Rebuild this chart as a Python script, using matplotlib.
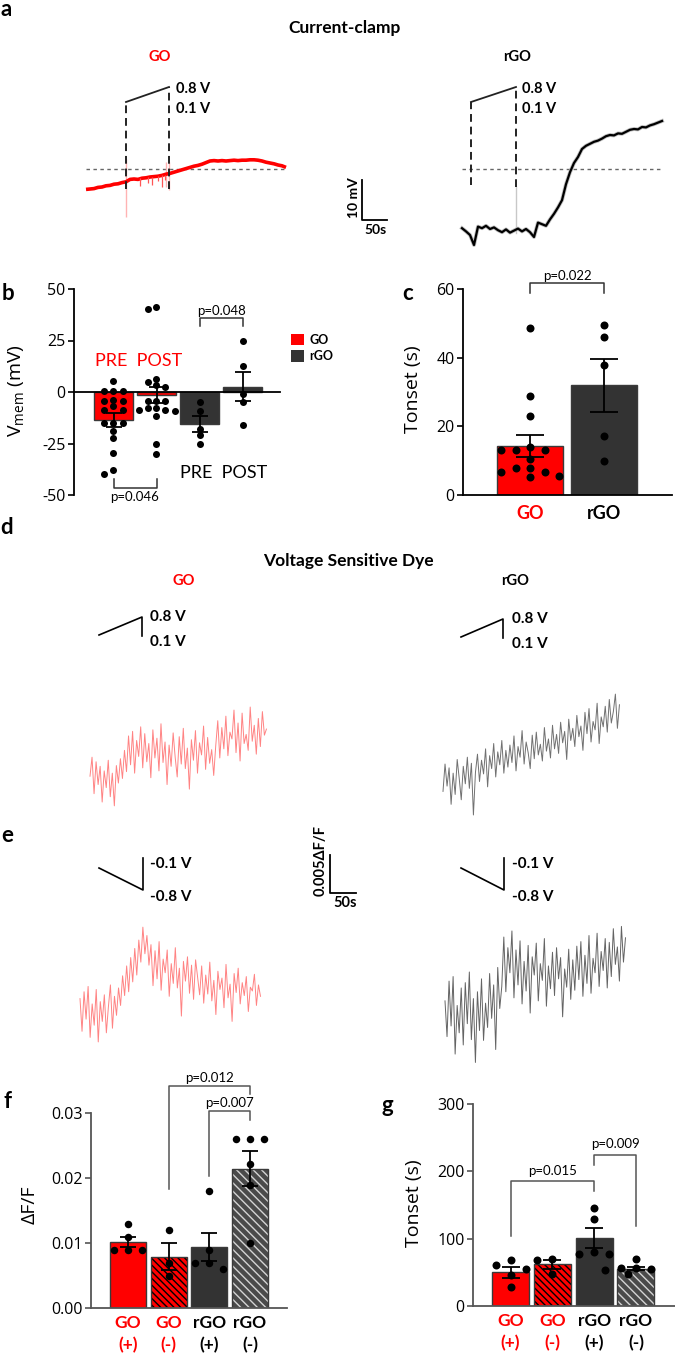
import numpy as np
import matplotlib
matplotlib.use('Agg')
import matplotlib.pyplot as plt
from matplotlib.patches import Patch
from matplotlib.ticker import FormatStrFormatter

plt.rcParams['font.family'] = ['Open Sans', 'DejaVu Sans']
plt.rcParams['hatch.linewidth'] = 1.0
plt.rcParams['axes.unicode_minus'] = False

# ------------------------------------------------------------------ data
# panel a: current clamp traces (mV relative to resting level, sampled every 8 s)
cc_dt = 8.0
cc_go = [-5.1, -5.0, -4.9, -4.6, -4.5, -4.2, -4.1, -3.8, -3.7, -3.4,
         -3.2, -2.6, -2.5, -2.6, -2.3, -2.2, -2.0, -1.9, -1.8, -1.6,
         -1.3, -1.1, -0.8, -0.5, -0.2, 0.1, 0.4, 0.7, 0.9, 1.2,
         1.6, 2.0, 2.1, 2.0, 2.1, 2.0, 2.1, 2.2, 2.1, 2.2,
         2.2, 2.3, 2.3, 2.2, 2.0, 1.7, 1.5, 1.3, 1.0, 0.8, 0.4]
cc_rgo = [-14.8, -15.6, -16.5, -19.0, -14.4, -14.8, -14.2, -15.0, -14.6, -15.3,
          -15.8, -15.1, -15.9, -15.4, -14.9, -15.6, -15.0, -15.8, -17.0, -13.4,
          -13.8, -14.2, -12.6, -11.2, -9.6, -7.8, -3.8, -0.8, 1.5, 3.0,
          5.0, 5.8, 6.3, 6.8, 7.1, 7.6, 8.2, 8.5, 8.4, 8.9,
          8.8, 9.3, 9.8, 10.0, 9.9, 10.5, 10.4, 10.9, 11.2, 11.6, 12.0]
cc_go_spike_t = [108, 124, 132, 144, 152, 158]
cc_go_spike_lo = [-4.2, -3.6, -3.9, -3.1, -4.5, -2.8]
cc_go_spike_hi = [-2.2, -2.0, -1.9, -1.8, -1.6, -1.4]
cc_go_artifact_t = [80, 160, 166]
cc_go_artifact_lo = [-12.0, -4.5, -5.25]
cc_go_artifact_hi = [2.5, 1.75, 1.75]
cc_go_stim_t = [80, 166]
cc_rgo_stim_t = [18, 108]
cc_stim_level = [16.75, 20.5]
cc_scale = [50, 10]          # s, mV

# panels d/e: voltage sensitive dye traces (dF/F in units of 1e-3)
vsd_dt = 3.9
vsd_d_go = [0.5, 3.0, -1.8, 2.4, -0.6, 1.8, -2.9, 1.2, -1.0, 2.6, -2.2, 0.9, -3.4, 1.9, -0.4, 2.8,
            0.2, 3.9, 1.1, 5.8, 2.0, 6.4, 0.9, 5.2, 3.1, 7.0, 1.6, 6.1, 2.4, 4.8, 0.3, 6.6, 2.9, 5.5,
            1.2, 7.4, 2.3, 5.0, -0.6, 4.6, 1.8, 6.2, 3.0, 0.4, 5.7, 2.1, 6.8, 1.5, 4.2, -1.2, 5.3, 2.6,
            6.5, 0.9, 4.9, 3.3, 7.1, 1.4, 5.6, 2.2, 4.0, 0.6,
            4.5, 7.8, 2.9, 6.9, 4.1, 8.4, 3.2, 6.3, 5.4, 9.2, 3.6, 7.5, 2.5, 8.8, 4.8, 6.0, 3.9, 9.6,
            5.1, 7.2, 3.4, 8.1, 4.4, 9.0, 5.9, 6.7]
vsd_d_rgo = [-1.5, 2.1, -0.8, 1.6, -3.2, 0.9, -1.9, 2.7, 0.2, -2.6, 1.8, -0.5, 3.0, -1.1, 2.2, -4.6,
             1.0, 3.4, -0.2, 2.6, 0.8, 4.1, -0.9, 3.2, 1.5, 4.8, 0.4, 3.7, 2.0, 5.2, 0.9, 3.9, 1.7,
             4.6, 2.3, 5.8, 1.2, 4.4, 3.0, 6.5, 2.1, 5.0, 3.6, 1.5, 5.9, 2.8, 6.3, 3.3, 4.7, 2.5, 6.9, 3.8,
             5.4, 2.9, 7.2, 4.1, 6.0, 3.5, 7.6, 4.9, 6.4, 2.7, 8.0, 5.2, 6.8, 4.4, 8.5, 5.7, 7.1, 3.9,
             8.9, 6.1, 9.4, 5.0, 7.7, 6.6, 10.1, 4.8, 8.3, 7.0, 9.7, 6.3, 10.6, 7.5, 9.0, 11.3, 6.8, 9.9]
vsd_e_go = [1.5, -2.8, 2.4, -1.2, 3.1, -3.6, 0.8, -2.0, 2.7, -4.2, 1.1, -1.5, 2.0, -3.0, 0.4, 3.3, -2.4, 1.8, -0.7, 2.9,
            0.6, 4.5, 1.9, 5.8, 2.4, 6.9, 3.7, 8.1, 4.6, 9.2, 6.3, 10.9, 7.4, 9.8, 5.9,
            8.6, 3.2, 7.8, 4.1, 9.0, 2.6, 6.7, 4.9, 7.9, 1.8, 6.1, 3.5, 8.2, 2.9, 5.5, -0.8, 6.4, 3.8, 7.0, 2.2,
            5.9, 1.4, 6.6, 4.3, 2.0,
            5.8, 0.9, 4.6, 2.1, 6.3, 1.2, 3.9, -0.6, 5.1, 2.7, 4.2, 0.3, 6.0, 1.6, 3.4, -1.5, 4.8, 2.3, 5.5, 0.8,
            3.6, 1.9, 4.4, -0.2, 3.0, 2.5, 4.7, 0.6, 3.3, 1.8]
vsd_e_rgo = [1.2, -3.5, 3.8, -2.1, 4.4, -5.8, 0.6, -3.0, 2.9, -4.6, 3.6, -1.8, 5.0, -3.9, 1.5, -6.9, 2.4, -2.7,
             4.1, -4.0, 0.9, -2.3, 4.8, -1.1, 3.3, -5.2, 5.6, 0.2,
             3.1, 9.6, 2.4, 8.2, 4.9, 10.4,
             1.6, 7.9, 3.3, 9.1, 0.8, 6.4, 2.5, 8.5, -0.4, 7.0, 4.6, 8.8, 1.2, 6.1, 3.9, 9.4, 0.5, 5.8, 2.8, 7.6,
             1.9, 8.2, 4.1, 6.9, -0.9, 5.4, 3.0, 8.0, 1.4, 6.6,
             2.6, 8.4, 4.0, 9.0, 1.8, 7.2, 3.5, 9.8, 2.2, 6.8, 4.9, 10.1, 3.1, 7.7, 5.2, 9.4, 2.9, 8.9, 4.4, 10.7,
             6.0, 8.3, 3.8, 11.0, 6.3, 9.5]
vsd_scale = [50, 5]          # s, 1e-3 dF/F

# panel b: Vmem
b_means = [-13.6, -1.5, -15.5, 2.6]
b_sems = [3.3, 3.8, 3.7, 7.1]
b_go_pre = [5.2, 0.3, 0.3, 0.3, -3.7, -4.5, -4.5, -6.9, -8.5, -8.5, -15, -15, -15, -19, -22.3, -29.8, -37.9, -40]
b_go_post = [41.1, 40.2, 6.5, 4.7, 3.4, 2.4, -4.5, -4.5, -4.5, -7.7, -7.7, -8.5, -8.5, -9.4, -11.8, -25, -30]
b_rgo_pre = [-5, -9, -17.9, -21, -25]
b_rgo_post = [25, 12.4, -1, -5, -16]
b_yticks = [-50, -25, 0, 25, 50]

# panel c: Tonset current clamp
c_labels = ['GO', 'rGO']
c_means = [14.3, 31.9]
c_sems = [3.2, 7.8]
c_go = [48.5, 28.8, 23.1, 13.9, 13.2, 13.2, 13.2, 10.4, 7.8, 7.8, 6.6, 6.6, 5.4, 5.1]
c_rgo = [49.5, 45.9, 38.0, 17.1, 10.0]
c_yticks = [0, 20, 40, 60]

# panel f: dF/F
fg_labels = ['GO\n(+)', 'GO\n(-)', 'rGO\n(+)', 'rGO\n(-)']
f_means = [0.0102, 0.0079, 0.0094, 0.0214]
f_sems = [0.0008, 0.0021, 0.0022, 0.0027]
f_go_p = [0.013, 0.0109, 0.009, 0.009, 0.009]
f_go_m = [0.012, 0.007, 0.005]
f_rgo_p = [0.018, 0.0089, 0.007, 0.007, 0.006]
f_rgo_m = [0.026, 0.026, 0.026, 0.0221, 0.019, 0.010]
f_yticks = [0.0, 0.01, 0.02, 0.03]

# panel g: Tonset VSD
g_means = [50, 62, 101, 55.6]
g_sems = [8, 7, 15, 2.5]
g_go_p = [68, 61.5, 55.6, 45.7, 28.3]
g_go_m = [70.5, 68, 47]
g_rgo_p = [146, 128.5, 80, 77, 77]
g_rgo_m = [69.5, 57, 57, 55.6, 53, 48]
g_yticks = [0, 100, 200, 300]

# ------------------------------------------------------------------ style
RED = '#ff0000'
DARK = '#333333'
W, H = 675, 1354
BOLD = dict(family=['Lato', 'DejaVu Sans'], weight='bold')
LATO = dict(family=['Lato', 'DejaVu Sans'])

fig = plt.figure(figsize=(W / 100, H / 100), dpi=100)


def px_axes(l, t, r, b):
    ax = fig.add_axes([l / W, 1 - b / H, (r - l) / W, (b - t) / H])
    ax.set_facecolor('none')
    return ax


def trace_axes(l, t, r, b, x_left, xpp, y_bottom, ypp):
    ax = px_axes(l, t, r, b)
    ax.set_xlim(x_left, x_left + (r - l) * xpp)
    ax.set_ylim(y_bottom, y_bottom + (b - t) * ypp)
    ax.axis('off')
    return ax


ov = px_axes(0, 0, W, H)
ov.set_xlim(0, W)
ov.set_ylim(H, 0)
ov.axis('off')


def T(x, y, s, size, bold=True, color='black', ha='center', va='center', rot=0, lato=True):
    kw = BOLD if bold else (LATO if lato else dict(family=['Open Sans', 'DejaVu Sans']))
    ov.text(x, y, s, fontsize=size, color=color, ha=ha, va=va, rotation=rot, **kw)


# ------------------------------------------------------------------ panel a
ax_a = trace_axes(80, 70, 670, 250, (80 - 86) * 2, 2.0, (169 - 250) / 4, 0.25)
rgo_off = (462 - 86) * 2
t_cc = np.arange(len(cc_go)) * cc_dt
# reference dotted lines
for off in (0, rgo_off):
    ax_a.plot([off, off + t_cc[-1] + 2], [0, 0], color='#666666', lw=1.0, ls=(0, (2.5, 2.5)), zorder=1)
# GO
ax_a.vlines(cc_go_artifact_t, cc_go_artifact_lo, cc_go_artifact_hi, color='#ffb3b3', lw=1.0, zorder=2)
ax_a.plot(t_cc, cc_go, color=RED, lw=2.6, zorder=3, solid_capstyle='butt')
ax_a.vlines(cc_go_spike_t, cc_go_spike_lo, cc_go_spike_hi, color='#ff5555', lw=0.9, zorder=3)
for tt, lv in zip(cc_go_stim_t, cc_stim_level):
    ax_a.plot([tt, tt], [-4.9, lv], color='#222222', lw=1.4, ls=(0, (4, 2.5)), zorder=4)
ax_a.plot(cc_go_stim_t, cc_stim_level, color='#222222', lw=1.3, zorder=4)
# rGO
rs = [t + rgo_off for t in cc_rgo_stim_t]
ax_a.plot([rs[1], rs[1]], [-16, -4.5], color='#c8c8c8', lw=1.0, zorder=2)
ax_a.plot(t_cc + rgo_off, cc_rgo, color='#b0b0b0', lw=2.8, zorder=3, alpha=0.8)
ax_a.plot(t_cc + rgo_off, cc_rgo, color='black', lw=1.6, zorder=3)
ax_a.plot([rs[0], rs[0]], [-4.0, cc_stim_level[0]], color='#222222', lw=1.4, ls=(0, (4, 2.5)), zorder=4)
ax_a.plot([rs[1], rs[1]], [-4.5, cc_stim_level[1]], color='#222222', lw=1.4, ls=(0, (4, 2.5)), zorder=4)
ax_a.plot(rs, cc_stim_level, color='#222222', lw=1.3, zorder=4)
# scale bar
sb_t, sb_v = (362 - 86) * 2, (169 - 220) / 4
ax_a.plot([sb_t, sb_t, sb_t + cc_scale[0]], [sb_v + cc_scale[1], sb_v, sb_v], color='black', lw=1.3)

T(6, 10, 'a', 16)
T(345, 28, 'Current-clamp', 12.5)
T(160, 57, 'GO', 10.5, color=RED)
T(517, 57, 'rGO', 10.5)
for x0 in (176, 522):
    T(x0, 89, '0.8 V', 10.5, ha='left')
    T(x0, 109, '0.1 V', 10.5, ha='left')
T(354, 198, '10 mV', 10, rot=90)
T(376, 230, '50s', 10)

# ------------------------------------------------------------------ bar panels helpers
def swarm(ax, xc, vals, spacing, thresh):
    tr = ax.transData
    inv = tr.inverted()
    cx = tr.transform((xc, 0))[0]
    placed, xs = [], []
    for v in vals:
        py = tr.transform((xc, v))[1]
        px = cx
        for k in [0, -1, 1, -2, 2, -3, 3, -4, 4, -5, 5]:
            px = cx + k * spacing
            if all((px - qx) ** 2 + (py - qy) ** 2 >= thresh ** 2 for qx, qy in placed):
                break
        placed.append((px, py))
        xs.append(inv.transform((px, py))[0])
    return xs


def bars(ax, means, sems, groups, faces, hatches, hcols, spacings, dot, capsize, width=0.885, tfac=1.05):
    x = np.arange(len(means))
    for i in range(len(means)):
        if hatches[i]:
            ax.bar(x[i], means[i], width, color=faces[i], edgecolor=hcols[i], hatch=hatches[i],
                   linewidth=0, zorder=2)
            ax.bar(x[i], means[i], width, facecolor='none', edgecolor='#3a3a3a', linewidth=1.0, zorder=2.1)
        else:
            ax.bar(x[i], means[i], width, color=faces[i], edgecolor='#3a3a3a', linewidth=1.0, zorder=2)
    s = (dot * 0.72) ** 2
    for i, vals in enumerate(groups):
        xs = swarm(ax, x[i], vals, spacings[i], dot * tfac)
        ax.scatter(xs, vals, s=s, color='black', linewidths=0, zorder=3, clip_on=False)
    ax.errorbar(x, means, yerr=sems, fmt='none', ecolor='black', elinewidth=1.3,
                capsize=capsize, capthick=1.3, zorder=4)


def style_axes(ax, yticks, color):
    for sp in ('top', 'right'):
        ax.spines[sp].set_visible(False)
    for sp in ('left', 'bottom'):
        ax.spines[sp].set_color(color)
        ax.spines[sp].set_linewidth(1.3)
    ax.set_yticks(yticks)
    ax.tick_params(axis='y', direction='out', length=4, width=1.2, color=color, labelsize=11.5, pad=2)
    ax.tick_params(axis='x', length=0)


def bracket(ax, x1, x2, y, y1, y2, text, ty, color='#333333'):
    ax.plot([x1, x1, x2, x2], [y1, y, y, y2], color=color, lw=1.1, clip_on=False, zorder=5)
    ax.text((x1 + x2) / 2, ty, text, ha='center', va='center', fontsize=9.5, clip_on=False, **LATO)


# ------------------------------------------------------------------ panel b
ax_b = px_axes(74, 289, 280, 495)
ax_b.set_ylim(-50, 50)
ax_b.set_xlim((74 - 113.5) / 43, (280 - 113.5) / 43)
style_axes(ax_b, b_yticks, 'black')
ax_b.spines['bottom'].set_position(('data', 0))
ax_b.set_xticks([])
bars(ax_b, b_means, b_sems, [b_go_pre, b_go_post, b_rgo_pre, b_rgo_post],
     [RED, RED, DARK, DARK], [None] * 4, [None] * 4, [9, 9, 14, 14], 7, 6, tfac=0.8)
bracket(ax_b, 2, 3, 36, 31.8, 31.8, 'p=0.048', 39.5)
bracket(ax_b, 0, 1, -46.8, -42.4, -42.4, 'p=0.046', -51)
fig.legend(handles=[Patch(facecolor=RED, label='GO'), Patch(facecolor=DARK, label='rGO')],
           loc='upper left', bbox_to_anchor=(291 / W, 1 - 334 / H), bbox_transform=fig.transFigure,
           frameon=False, prop=dict(family=['Lato'], weight='bold', size=9),
           handlelength=1.0, handleheight=1.0, handletextpad=0.5, labelspacing=0.35,
           borderpad=0, borderaxespad=0)
T(8, 294, 'b', 16)
T(17, 391, r'V$_\mathregular{mem}$ (mV)', 14, bold=False, rot=90, lato=False)
T(139, 361, 'PRE  POST', 13, bold=False, color=RED)
T(224, 473, 'PRE  POST', 13, bold=False)

# ------------------------------------------------------------------ panel c
ax_c = px_axes(463, 289, 672, 495)
ax_c.set_ylim(0, 60)
ax_c.set_xlim((463 - 530) / 74, (672 - 530) / 74)
style_axes(ax_c, c_yticks, 'black')
bars(ax_c, c_means, c_sems, [c_go, c_rgo], [RED, DARK], [None] * 2, [None] * 2, [14.5, 14.5], 8, 10,
     width=0.892)
ax_c.set_xticks([0, 1], c_labels)
for lbl, col in zip(ax_c.get_xticklabels(), [RED, 'black']):
    lbl.set_color(col)
    lbl.set_fontsize(13)
    lbl.set_fontfamily(['Lato', 'DejaVu Sans'])
    lbl.set_fontweight('bold')
ax_c.tick_params(axis='x', pad=7)
bracket(ax_c, 0, 1, 61.8, 58.7, 58.7, 'p=0.022', 63.8)
T(408, 293, 'c', 16)
T(413, 389, 'Tonset (s)', 14, bold=False, rot=90, lato=False)

# ------------------------------------------------------------------ panels d / e
SPP = vsd_scale[0] / 26.0        # seconds per pixel
MPP = vsd_scale[1] / 38.0        # 1e-3 dF/F per pixel

ax_d = trace_axes(60, 640, 650, 830, (60 - 90) * SPP, SPP, (780 - 830) * MPP, MPP)
d_off = (443 - 90) * SPP
ax_d.plot(np.arange(len(vsd_d_go)) * vsd_dt, vsd_d_go, color='#ff5a5a', lw=0.7, alpha=0.75)
ax_d.plot(np.arange(len(vsd_d_rgo)) * vsd_dt + d_off, vsd_d_rgo, color='#4d4d4d', lw=0.7, alpha=0.8)

ax_e = trace_axes(60, 840, 650, 1080, (60 - 80) * SPP, SPP, (1010 - 1080) * MPP, MPP)
e_off = (445 - 80) * SPP
ax_e.plot(np.arange(len(vsd_e_go)) * vsd_dt, vsd_e_go, color='#ff5a5a', lw=0.7, alpha=0.75)
ax_e.plot(np.arange(len(vsd_e_rgo)) * vsd_dt + e_off, vsd_e_rgo, color='#3d3d3d', lw=0.7, alpha=0.8)
sb_t, sb_v = (330 - 80) * SPP, (1010 - 893) * MPP
ax_e.plot([sb_t, sb_t, sb_t + vsd_scale[0]], [sb_v + vsd_scale[1], sb_v, sb_v], color='black', lw=1.3)

T(7, 528, 'd', 16)
T(348, 561, 'Voltage Sensitive Dye', 12.5)
T(184, 581, 'GO', 10.5, color=RED)
T(515, 581, 'rGO', 10.5)
ov.plot([99, 142, 142], [635, 617, 636], color='black', lw=1.2)
ov.plot([461, 503, 503], [637, 619, 638], color='black', lw=1.2)
for x0, dy in ((150, 0), (512, 2)):
    T(x0, 617 + dy, '0.8 V', 11, ha='left')
    T(x0, 642 + dy, '0.1 V', 11, ha='left')

T(7, 836, 'e', 16)
ov.plot([99, 143, 143], [868, 890, 858], color='black', lw=1.2)
ov.plot([461, 504, 504], [868, 890, 858], color='black', lw=1.2)
for x0 in (150, 512):
    T(x0, 864, '-0.1 V', 11, ha='left')
    T(x0, 897, '-0.8 V', 11, ha='left')
T(321, 861, '0.005ΔF/F', 10.5, rot=90)
T(345, 903, '50s', 10.5)

# ------------------------------------------------------------------ panel f
GRAY_AX = '#555555'
ax_f = px_axes(91, 1113, 287, 1308)
ax_f.set_ylim(0, 0.03)
ax_f.set_xlim((91 - 128) / 40.67, (287 - 128) / 40.67)
style_axes(ax_f, f_yticks, GRAY_AX)
ax_f.yaxis.set_major_formatter(FormatStrFormatter('%.2f'))
bars(ax_f, f_means, f_sems, [f_go_p, f_go_m, f_rgo_p, f_rgo_m],
     [RED, RED, DARK, '#4a4a4a'], [None, '\\\\\\\\\\', None, '\\\\\\\\'], [None, 'black', None, '#d4d4d4'],
     [14, 14, 14, 14], 7.5, 6)
bracket(ax_f, 2, 3, 0.03026, 0.0203, 0.0289, 'p=0.007', 0.0316, GRAY_AX)
bracket(ax_f, 1, 3, 0.03415, 0.0183, 0.0330, 'p=0.012', 0.0354, GRAY_AX)
T(7, 1102, 'f', 16)
T(30, 1205, 'ΔF/F', 14, bold=False, rot=90, lato=False)

# ------------------------------------------------------------------ panel g
ax_g = px_axes(473, 1104, 675, 1306)
ax_g.set_ylim(0, 300)
ax_g.set_xlim((473 - 510.5) / 41.8, (675 - 510.5) / 41.8)
style_axes(ax_g, g_yticks, GRAY_AX)
bars(ax_g, g_means, g_sems, [g_go_p, g_go_m, g_rgo_p, g_rgo_m],
     [RED, RED, DARK, '#4a4a4a'], [None, '\\\\\\\\\\', None, '\\\\\\\\'], [None, 'black', None, '#d4d4d4'],
     [15, 15, 15, 7.7], 8, 6.5)
bracket(ax_g, 0, 2, 186, 104, 171, 'p=0.015', 200, GRAY_AX)
bracket(ax_g, 2, 3, 225, 210, 118.6, 'p=0.009', 240, GRAY_AX)
T(387, 1106, 'g', 16)
T(414, 1203, 'Tonset (s)', 14, bold=False, rot=90, lato=False)

for ax in (ax_f, ax_g):
    ax.set_xticks(np.arange(4), fg_labels)
    for lbl, col in zip(ax.get_xticklabels(), [RED, RED, 'black', 'black']):
        lbl.set_color(col)
        lbl.set_fontsize(12.5)
        lbl.set_fontfamily(['Lato', 'DejaVu Sans'])
        lbl.set_fontweight('bold')
        lbl.set_linespacing(1.45)
    ax.tick_params(axis='x', pad=5)

fig.savefig('out.png', dpi=100)
